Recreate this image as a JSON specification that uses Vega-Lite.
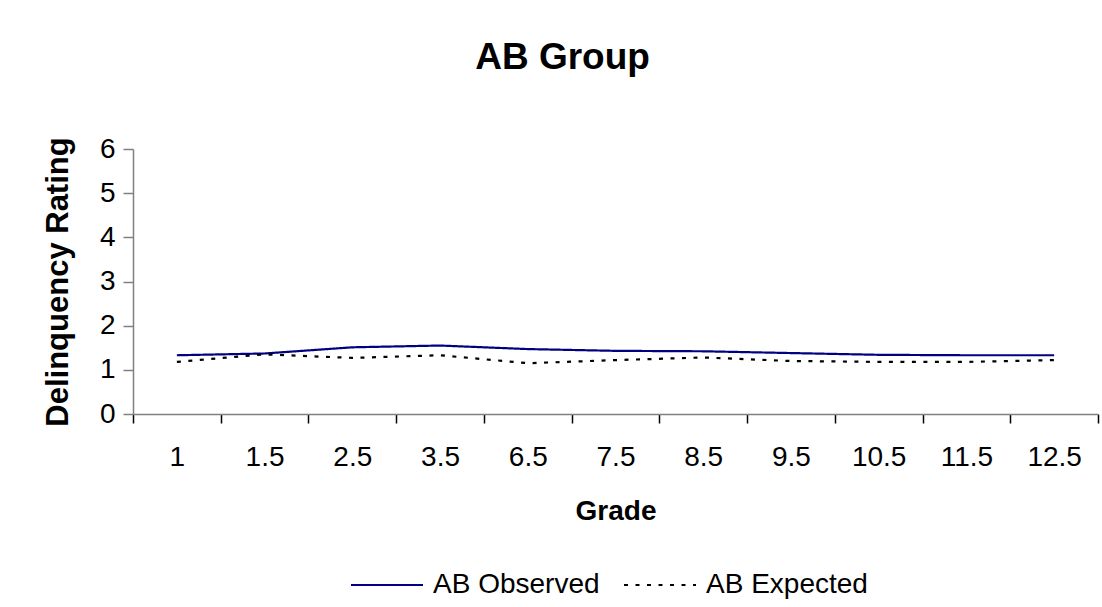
{
  "$schema": "https://vega.github.io/schema/vega-lite/v6.json",
  "width": 965,
  "height": 265,
  "autosize": {"type": "none"},
  "padding": {"left": 133, "top": 149, "right": 4, "bottom": 193},
  "background": "white",
  "title": {
    "text": "AB Group",
    "font": "Liberation Sans",
    "fontSize": 37,
    "fontWeight": "bold",
    "color": "black",
    "anchor": "middle",
    "baseline": "alphabetic",
    "offset": 29,
    "dx": -53
  },
  "data": {
    "values": [
      {"grade": "1", "series": "AB Observed", "value": 1.33},
      {"grade": "1.5", "series": "AB Observed", "value": 1.37},
      {"grade": "2.5", "series": "AB Observed", "value": 1.51},
      {"grade": "3.5", "series": "AB Observed", "value": 1.55},
      {"grade": "6.5", "series": "AB Observed", "value": 1.47},
      {"grade": "7.5", "series": "AB Observed", "value": 1.43},
      {"grade": "8.5", "series": "AB Observed", "value": 1.42},
      {"grade": "9.5", "series": "AB Observed", "value": 1.38},
      {"grade": "10.5", "series": "AB Observed", "value": 1.34},
      {"grade": "11.5", "series": "AB Observed", "value": 1.33},
      {"grade": "12.5", "series": "AB Observed", "value": 1.33},
      {"grade": "1", "series": "AB Expected", "value": 1.18},
      {"grade": "1.5", "series": "AB Expected", "value": 1.35},
      {"grade": "2.5", "series": "AB Expected", "value": 1.27},
      {"grade": "3.5", "series": "AB Expected", "value": 1.33},
      {"grade": "6.5", "series": "AB Expected", "value": 1.15},
      {"grade": "7.5", "series": "AB Expected", "value": 1.22},
      {"grade": "8.5", "series": "AB Expected", "value": 1.28},
      {"grade": "9.5", "series": "AB Expected", "value": 1.2},
      {"grade": "10.5", "series": "AB Expected", "value": 1.18},
      {"grade": "11.5", "series": "AB Expected", "value": 1.18},
      {"grade": "12.5", "series": "AB Expected", "value": 1.22}
    ]
  },
  "mark": {"type": "line", "strokeWidth": 2.2},
  "encoding": {
    "x": {
      "field": "grade",
      "type": "ordinal",
      "sort": null,
      "scale": {"paddingInner": 0, "paddingOuter": 0},
      "axis": {
        "title": "Grade",
        "labelAngle": 0,
        "tickBand": "extent",
        "tickSize": 9,
        "tickColor": "black",
        "domainColor": "#808080",
        "labelPadding": 20,
        "titlePadding": 26
      }
    },
    "y": {
      "field": "value",
      "type": "quantitative",
      "scale": {"domain": [0, 6]},
      "axis": {
        "title": "Delinquency Rating",
        "titleFontSize": 31,
        "values": [0, 1, 2, 3, 4, 5, 6],
        "tickSize": 10,
        "tickColor": "#808080",
        "domainColor": "#808080",
        "labelPadding": 8,
        "titlePadding": 25,
        "grid": false
      }
    },
    "color": {
      "field": "series",
      "type": "nominal",
      "sort": ["AB Observed", "AB Expected"],
      "scale": {"domain": ["AB Observed", "AB Expected"], "range": ["#000080", "#000000"]},
      "legend": {
        "title": null,
        "orient": "none",
        "direction": "horizontal",
        "legendX": 217,
        "legendY": 399,
        "symbolType": "stroke",
        "symbolSize": 5184,
        "symbolStrokeWidth": 2,
        "labelFontSize": 28,
        "labelFont": "Liberation Sans",
        "labelColor": "black",
        "labelLimit": 400,
        "columnPadding": 20,
        "labelOffset": 9
      }
    },
    "strokeDash": {
      "field": "series",
      "type": "nominal",
      "sort": ["AB Observed", "AB Expected"],
      "scale": {"domain": ["AB Observed", "AB Expected"], "range": [[1, 0], [4, 7.5]]},
      "legend": null
    }
  },
  "config": {
    "view": {"stroke": null},
    "axis": {
      "labelFont": "Liberation Sans",
      "labelFontSize": 28,
      "labelColor": "black",
      "titleFont": "Liberation Sans",
      "titleFontSize": 28,
      "titleFontWeight": "bold",
      "titleColor": "black",
      "domainWidth": 1.5,
      "tickWidth": 1.5
    }
  }
}
